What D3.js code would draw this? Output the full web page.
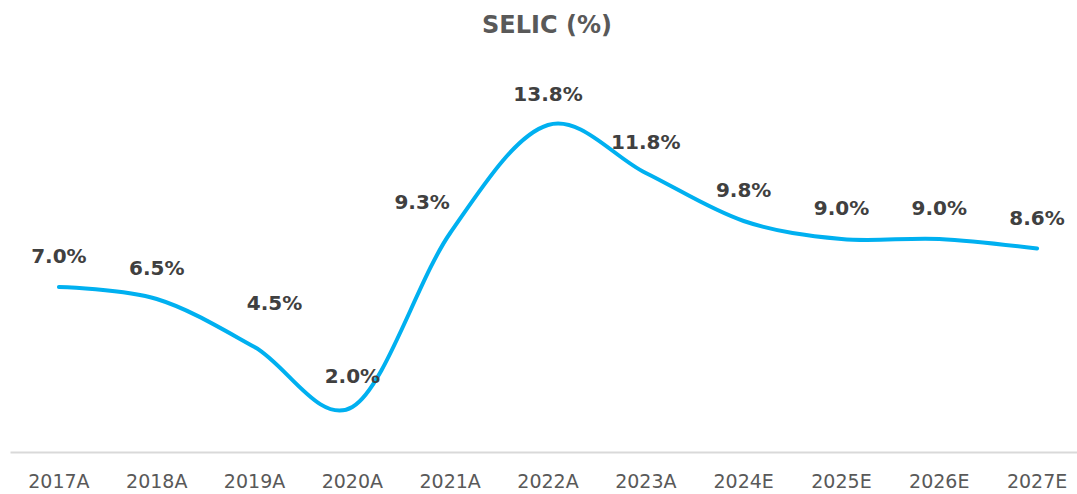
<!DOCTYPE html>
<html>
<head>
<meta charset="utf-8">
<script src="https://cdn.jsdelivr.net/npm/d3@7"></script>
<style>
    html, body { margin: 0; padding: 0; background: #fff; }
    svg { display: block; }
    .title { font-family: "DejaVu Sans", sans-serif; font-weight: bold; font-size: 24px; fill: #595959; }
    .label { font-family: "DejaVu Sans", sans-serif; font-weight: bold; font-size: 20px; fill: #404040; }
    .x-axis text { font-family: "DejaVu Sans", sans-serif; font-size: 19px; fill: #595959; }
    .x-axis path { stroke: #d9d9d9; stroke-width: 2px; }
</style>
</head>
<body>
<div id="chart"></div>
<script>
//Data
var years = ["2017A", "2018A", "2019A", "2020A", "2021A", "2022A", "2023A", "2024E", "2025E", "2026E", "2027E"];
var selic = [7.0, 6.5, 4.5, 2.0, 9.25, 13.75, 11.75, 9.75, 9.0, 9.0, 8.6];
var titleText = "SELIC (%)";

var width = 1077,
    height = 494;

var svg = d3.select("#chart").append("svg")
    .attr("width", width)
    .attr("height", height);

//Scales - category slots like the original plot area
var x = d3.scaleBand()
    .domain(years)
    .range([10, 1086]);

var y = d3.scaleLinear()
    .domain([0, 16])
    .range([455, 71]);

function cx(d, i) {
    return x(years[i]) + x.bandwidth() / 2;
}

//Title
svg.append("text")
    .attr("class", "title")
    .attr("x", 547)
    .attr("y", 33)
    .attr("text-anchor", "middle")
    .text(titleText);

//Axis (only the baseline + labels)
var xAxis = d3.axisBottom(x)
    .tickSize(0)
    .tickSizeOuter(0)
    .tickPadding(0);

svg.append("g")
    .attr("class", "x-axis")
    .attr("transform", "translate(0,452)")
    .call(xAxis)
    .selectAll("text")
    .attr("dy", null)
    .attr("y", 36);

//Smoothed line
var line = d3.line()
    .x(cx)
    .y(function (d) { return y(d); })
    .curve(d3.curveCatmullRom.alpha(0));

svg.append("path")
    .datum(selic)
    .attr("d", line)
    .attr("fill", "none")
    .attr("stroke", "#00b0f0")
    .attr("stroke-width", 4)
    .attr("stroke-linecap", "round");

//Data labels - a couple were dragged by hand in the original
var nudge = {"2019A": [20, -13], "2021A": [-28, 0]};

svg.append("g").selectAll("text")
    .data(selic)
    .enter().append("text")
    .attr("class", "label")
    .attr("text-anchor", "middle")
    .attr("x", function (d, i) {
        var n = nudge[years[i]] || [0, 0];
        return cx(d, i) + n[0];
    })
    .attr("y", function (d, i) {
        var n = nudge[years[i]] || [0, 0];
        return y(d) - 24 + n[1];
    })
    .text(function (d) { return d.toFixed(1) + "%"; });
</script>
</body>
</html>
